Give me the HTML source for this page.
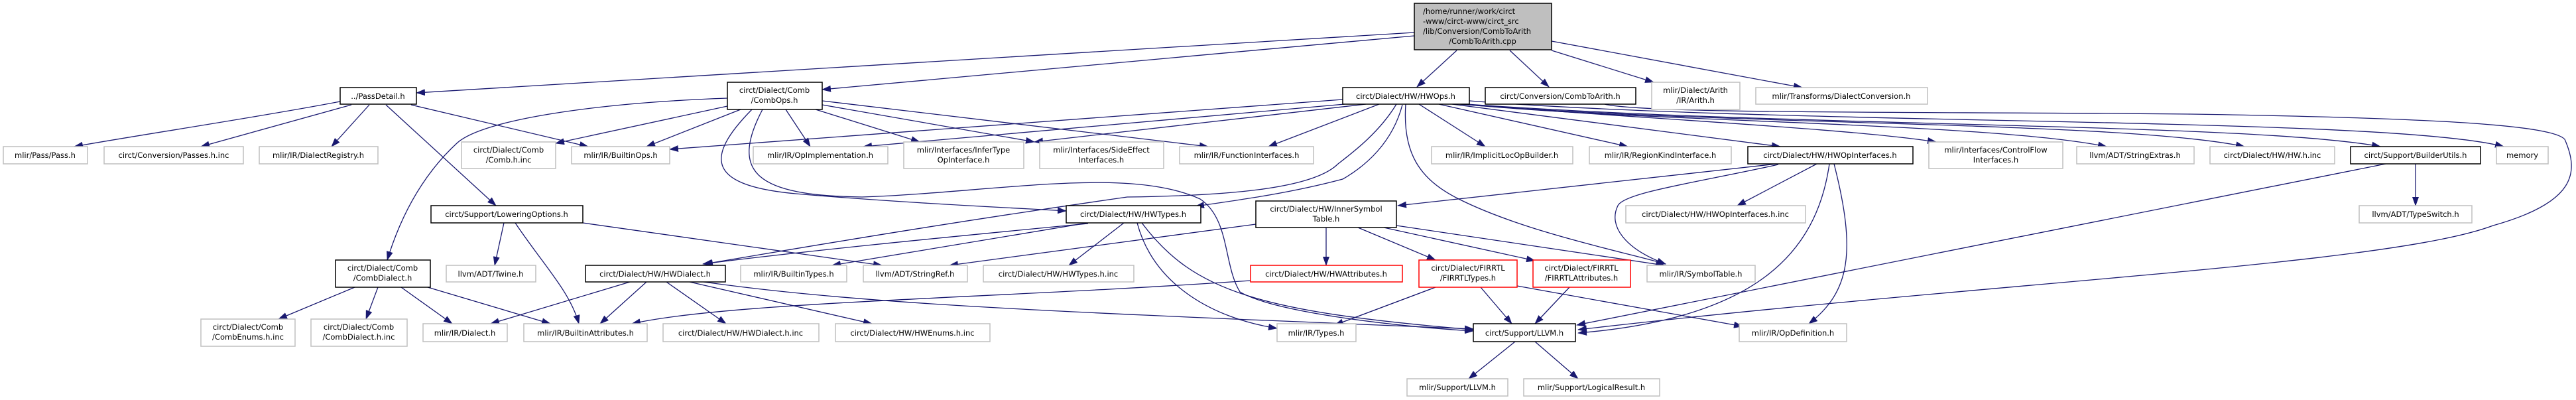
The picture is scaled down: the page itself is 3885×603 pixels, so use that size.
<!DOCTYPE html>
<html><head><meta charset="utf-8"><style>
html,body{margin:0;padding:0;background:#fff;}
svg{display:block;}
text{font-family:"DejaVu Sans","Liberation Sans",sans-serif;font-size:11.5px;fill:#000;}
.g{fill:#fff;stroke:#bfbfbf;stroke-width:1.5;}
.b{fill:#fff;stroke:#000;stroke-width:1.5;}
.r{fill:#fff;stroke:#ff0000;stroke-width:1.5;}
.m{fill:#bfbfbf;stroke:#000;stroke-width:1.5;}
.e{fill:none;stroke:#191970;stroke-width:1.3;marker-end:url(#a);}
</style></head><body>
<svg width="3885" height="603" viewBox="0 0 3885 603" xmlns="http://www.w3.org/2000/svg">
<defs><marker id="a" markerUnits="userSpaceOnUse" markerWidth="14" markerHeight="10" refX="13" refY="5" orient="auto"><path d="M0,0 L14,5 L0,10 z" fill="#191970"/></marker></defs>
<g>
<!-- main -->
<path class="e" d="M2133,49 L628,140"/>
<path class="e" d="M2133,54 L1240,135"/>
<path class="e" d="M2197,76 L2137,131"/>
<path class="e" d="M2277,76 L2336,131"/>
<path class="e" d="M2340,76 L2494,124"/>
<path class="e" d="M2340,62 L2718,132"/>
<!-- PassDetail -->
<path class="e" d="M513,153 C400,175 200,205 112,221"/>
<path class="e" d="M530,158 L303,221"/>
<path class="e" d="M557,158 L500,221"/>
<path class="e" d="M620,158 L887,221"/>
<path class="e" d="M582,158 L748,310"/>
<!-- CombOps -->
<path class="e" d="M1097,160 L838,216"/>
<path class="e" d="M1117,165 L975,221"/>
<path class="e" d="M1097,148 C900,155 730,180 690,215 C630,270 600,340 584,392"/>
<path class="e" d="M1185,165 L1222,221"/>
<path class="e" d="M1230,165 L1387,214"/>
<path class="e" d="M1240,158 L1560,214"/>
<path class="e" d="M1240,152 L1822,221"/>
<path class="e" d="M1134,165 C1060,240 1070,280 1200,292 C1350,305 1500,312 1608,318"/>
<path class="e" d="M1150,165 C1100,260 1140,295 1300,297 C1500,290 1700,250 1810,300 C1855,330 1845,400 1870,440 C1920,470 2100,492 2222,499"/>
<!-- HWOps -->
<path class="e" d="M2025,150 L1010,225"/>
<path class="e" d="M2028,157 L1302,221"/>
<path class="e" d="M2060,157 L1560,214"/>
<path class="e" d="M2080,157 L1913,221"/>
<path class="e" d="M2115,158 C2100,215 2060,250 2025,270 C1950,290 1880,300 1803,311"/>
<path class="e" d="M2106,157 C2080,200 2040,230 2018,247 C1980,285 1850,295 1700,297 C1400,340 1200,375 1062,398"/>
<path class="e" d="M2140,157 L2240,221"/>
<path class="e" d="M2170,157 L2455,221"/>
<path class="e" d="M2190,157 L2685,221"/>
<path class="e" d="M2200,157 C2500,180 2800,195 2920,214"/>
<path class="e" d="M2205,157 C2500,185 3000,185 3177,221"/>
<path class="e" d="M2208,157 C2600,190 3200,182 3385,221"/>
<path class="e" d="M2212,157 C2700,192 3400,185 3590,221"/>
<path class="e" d="M2216,152 C2700,190 3600,175 3776,221"/>
<path class="e" d="M2120,157 C2115,230 2140,270 2200,300 C2300,350 2450,380 2512,398"/>
<!-- CombToArith -->
<path class="e" d="M2420,157 C2480,172 2900,168 3300,172 C3700,178 3850,190 3868,210 C3890,260 3885,305 3760,340 C3600,400 3000,425 2380,497"/>
<!-- BuilderUtils -->
<path class="e" d="M3598,247 L2378,490"/>
<path class="e" d="M3643,247 L3643,310"/>
<!-- HWOpInterfaces -->
<path class="e" d="M2680,247 L2108,310"/>
<path class="e" d="M2682,248 C2560,275 2450,290 2440,310 C2425,340 2450,375 2512,398"/>
<path class="e" d="M2740,247 L2620,310"/>
<path class="e" d="M2759,247 C2740,380 2650,480 2380,502"/>
<path class="e" d="M2766,247 C2800,380 2790,440 2728,488"/>
<!-- InnerSymbolTable -->
<path class="e" d="M2000,343 L2000,400"/>
<path class="e" d="M1894,338 L1432,400"/>
<path class="e" d="M2048,343 L2165,392"/>
<path class="e" d="M2087,343 L2315,393"/>
<path class="e" d="M2106,340 L2510,400"/>
<!-- HWTypes -->
<path class="e" d="M1641,337 C1400,360 1200,380 1060,398"/>
<path class="e" d="M1640,336 L1255,400"/>
<path class="e" d="M1695,336 L1612,400"/>
<path class="e" d="M1715,336 C1740,430 1830,480 1926,495"/>
<path class="e" d="M1722,336 C1800,440 1900,470 2222,497"/>
<!-- LoweringOptions -->
<path class="e" d="M760,336 L746,400"/>
<path class="e" d="M777,336 C820,400 860,440 873,488"/>
<path class="e" d="M879,336 L1330,400"/>
<!-- CombDialect -->
<path class="e" d="M535,433 L420,481"/>
<path class="e" d="M570,433 L552,481"/>
<path class="e" d="M605,433 L682,488"/>
<path class="e" d="M645,433 L830,488"/>
<!-- HWDialect -->
<path class="e" d="M950,425 L740,488"/>
<path class="e" d="M975,425 L905,488"/>
<path class="e" d="M1005,425 L1095,488"/>
<path class="e" d="M1040,425 L1315,488"/>
<path class="e" d="M1040,422 C1300,460 1600,470 2222,496"/>
<!-- HWAttributes -->
<path class="e" d="M1886,423 C1500,450 1100,455 953,488"/>
<!-- FIRRTL -->
<path class="e" d="M2165,433 L2013,490"/>
<path class="e" d="M2233,433 L2280,488"/>
<path class="e" d="M2288,431 L2628,492"/>
<path class="e" d="M2367,433 L2315,488"/>
<!-- LLVM -->
<path class="e" d="M2285,515 L2215,571"/>
<path class="e" d="M2315,515 L2380,571"/>
</g>
<g>
<rect class="m" x="2133" y="5" width="207" height="70"/>
<text x="2146" y="21">/home/runner/work/circt</text>
<text x="2146" y="36">-www/circt-www/circt_src</text>
<text x="2146" y="51">/lib/Conversion/CombToArith</text>
<text x="2236" y="66" text-anchor="middle">/CombToArith.cpp</text>

<rect class="b" x="513" y="132" width="115" height="25"/><text x="570" y="149" text-anchor="middle">../PassDetail.h</text>
<rect class="b" x="1097" y="124" width="143" height="41"/><text x="1168" y="140" text-anchor="middle">circt/Dialect/Comb</text><text x="1168" y="155" text-anchor="middle">/CombOps.h</text>
<rect class="b" x="2025" y="132" width="191" height="25"/><text x="2120" y="149" text-anchor="middle">circt/Dialect/HW/HWOps.h</text>
<rect class="b" x="2240" y="132" width="227" height="25"/><text x="2353" y="149" text-anchor="middle">circt/Conversion/CombToArith.h</text>
<rect class="g" x="2491" y="124" width="133" height="41"/><text x="2557" y="140" text-anchor="middle">mlir/Dialect/Arith</text><text x="2557" y="155" text-anchor="middle">/IR/Arith.h</text>
<rect class="g" x="2648" y="132" width="259" height="25"/><text x="2777" y="149" text-anchor="middle">mlir/Transforms/DialectConversion.h</text>

<rect class="g" x="5" y="221" width="127" height="26"/><text x="68" y="238" text-anchor="middle">mlir/Pass/Pass.h</text>
<rect class="g" x="157" y="221" width="210" height="26"/><text x="262" y="238" text-anchor="middle">circt/Conversion/Passes.h.inc</text>
<rect class="g" x="391" y="221" width="179" height="26"/><text x="480" y="238" text-anchor="middle">mlir/IR/DialectRegistry.h</text>
<rect class="g" x="696" y="214" width="142" height="40"/><text x="767" y="230" text-anchor="middle">circt/Dialect/Comb</text><text x="767" y="245" text-anchor="middle">/Comb.h.inc</text>
<rect class="g" x="862" y="221" width="148" height="26"/><text x="936" y="238" text-anchor="middle">mlir/IR/BuiltinOps.h</text>
<rect class="g" x="1136" y="221" width="203" height="26"/><text x="1237" y="238" text-anchor="middle">mlir/IR/OpImplementation.h</text>
<rect class="g" x="1363" y="214" width="181" height="40"/><text x="1453" y="230" text-anchor="middle">mlir/Interfaces/InferType</text><text x="1453" y="245" text-anchor="middle">OpInterface.h</text>
<rect class="g" x="1568" y="214" width="187" height="40"/><text x="1661" y="230" text-anchor="middle">mlir/Interfaces/SideEffect</text><text x="1661" y="245" text-anchor="middle">Interfaces.h</text>
<rect class="g" x="1779" y="221" width="202" height="26"/><text x="1880" y="238" text-anchor="middle">mlir/IR/FunctionInterfaces.h</text>
<rect class="g" x="2159" y="221" width="213" height="26"/><text x="2265" y="238" text-anchor="middle">mlir/IR/ImplicitLocOpBuilder.h</text>
<rect class="g" x="2397" y="221" width="214" height="26"/><text x="2504" y="238" text-anchor="middle">mlir/IR/RegionKindInterface.h</text>
<rect class="b" x="2636" y="221" width="249" height="26"/><text x="2760" y="238" text-anchor="middle">circt/Dialect/HW/HWOpInterfaces.h</text>
<rect class="g" x="2909" y="214" width="202" height="40"/><text x="3010" y="230" text-anchor="middle">mlir/Interfaces/ControlFlow</text><text x="3010" y="245" text-anchor="middle">Interfaces.h</text>
<rect class="g" x="3132" y="221" width="177" height="26"/><text x="3220" y="238" text-anchor="middle">llvm/ADT/StringExtras.h</text>
<rect class="g" x="3333" y="221" width="188" height="26"/><text x="3427" y="238" text-anchor="middle">circt/Dialect/HW/HW.h.inc</text>
<rect class="b" x="3545" y="221" width="196" height="26"/><text x="3643" y="238" text-anchor="middle">circt/Support/BuilderUtils.h</text>
<rect class="g" x="3765" y="221" width="78" height="26"/><text x="3804" y="238" text-anchor="middle">memory</text>

<rect class="b" x="650" y="310" width="229" height="26"/><text x="764" y="327" text-anchor="middle">circt/Support/LoweringOptions.h</text>
<rect class="b" x="1608" y="310" width="203" height="26"/><text x="1709" y="327" text-anchor="middle">circt/Dialect/HW/HWTypes.h</text>
<rect class="b" x="1894" y="303" width="212" height="40"/><text x="2000" y="319" text-anchor="middle">circt/Dialect/HW/InnerSymbol</text><text x="2000" y="334" text-anchor="middle">Table.h</text>
<rect class="g" x="2452" y="310" width="271" height="26"/><text x="2587" y="327" text-anchor="middle">circt/Dialect/HW/HWOpInterfaces.h.inc</text>
<rect class="g" x="3558" y="310" width="170" height="26"/><text x="3643" y="327" text-anchor="middle">llvm/ADT/TypeSwitch.h</text>

<rect class="b" x="506" y="392" width="143" height="41"/><text x="577" y="408" text-anchor="middle">circt/Dialect/Comb</text><text x="577" y="423" text-anchor="middle">/CombDialect.h</text>
<rect class="g" x="673" y="400" width="135" height="25"/><text x="740" y="417" text-anchor="middle">llvm/ADT/Twine.h</text>
<rect class="b" x="883" y="400" width="211" height="25"/><text x="988" y="417" text-anchor="middle">circt/Dialect/HW/HWDialect.h</text>
<rect class="g" x="1117" y="400" width="160" height="25"/><text x="1197" y="417" text-anchor="middle">mlir/IR/BuiltinTypes.h</text>
<rect class="g" x="1302" y="400" width="157" height="25"/><text x="1380" y="417" text-anchor="middle">llvm/ADT/StringRef.h</text>
<rect class="g" x="1483" y="400" width="227" height="25"/><text x="1596" y="417" text-anchor="middle">circt/Dialect/HW/HWTypes.h.inc</text>
<rect class="r" x="1886" y="400" width="229" height="25"/><text x="2000" y="417" text-anchor="middle">circt/Dialect/HW/HWAttributes.h</text>
<rect class="r" x="2140" y="392" width="148" height="41"/><text x="2214" y="408" text-anchor="middle">circt/Dialect/FIRRTL</text><text x="2214" y="423" text-anchor="middle">/FIRRTLTypes.h</text>
<rect class="r" x="2312" y="392" width="147" height="41"/><text x="2385" y="408" text-anchor="middle">circt/Dialect/FIRRTL</text><text x="2385" y="423" text-anchor="middle">/FIRRTLAttributes.h</text>
<rect class="g" x="2484" y="400" width="163" height="25"/><text x="2565" y="417" text-anchor="middle">mlir/IR/SymbolTable.h</text>

<rect class="g" x="303" y="481" width="142" height="41"/><text x="374" y="497" text-anchor="middle">circt/Dialect/Comb</text><text x="374" y="512" text-anchor="middle">/CombEnums.h.inc</text>
<rect class="g" x="469" y="481" width="145" height="41"/><text x="541" y="497" text-anchor="middle">circt/Dialect/Comb</text><text x="541" y="512" text-anchor="middle">/CombDialect.h.inc</text>
<rect class="g" x="638" y="488" width="127" height="27"/><text x="701" y="506" text-anchor="middle">mlir/IR/Dialect.h</text>
<rect class="g" x="790" y="488" width="186" height="27"/><text x="883" y="506" text-anchor="middle">mlir/IR/BuiltinAttributes.h</text>
<rect class="g" x="1000" y="488" width="235" height="27"/><text x="1117" y="506" text-anchor="middle">circt/Dialect/HW/HWDialect.h.inc</text>
<rect class="g" x="1260" y="488" width="233" height="27"/><text x="1376" y="506" text-anchor="middle">circt/Dialect/HW/HWEnums.h.inc</text>
<rect class="g" x="1926" y="488" width="119" height="27"/><text x="1985" y="506" text-anchor="middle">mlir/IR/Types.h</text>
<rect class="b" x="2222" y="488" width="154" height="27"/><text x="2299" y="506" text-anchor="middle">circt/Support/LLVM.h</text>
<rect class="g" x="2623" y="488" width="162" height="27"/><text x="2704" y="506" text-anchor="middle">mlir/IR/OpDefinition.h</text>

<rect class="g" x="2122" y="571" width="152" height="26"/><text x="2198" y="588" text-anchor="middle">mlir/Support/LLVM.h</text>
<rect class="g" x="2298" y="571" width="205" height="26"/><text x="2400" y="588" text-anchor="middle">mlir/Support/LogicalResult.h</text>
</g>
</svg>
</body></html>
